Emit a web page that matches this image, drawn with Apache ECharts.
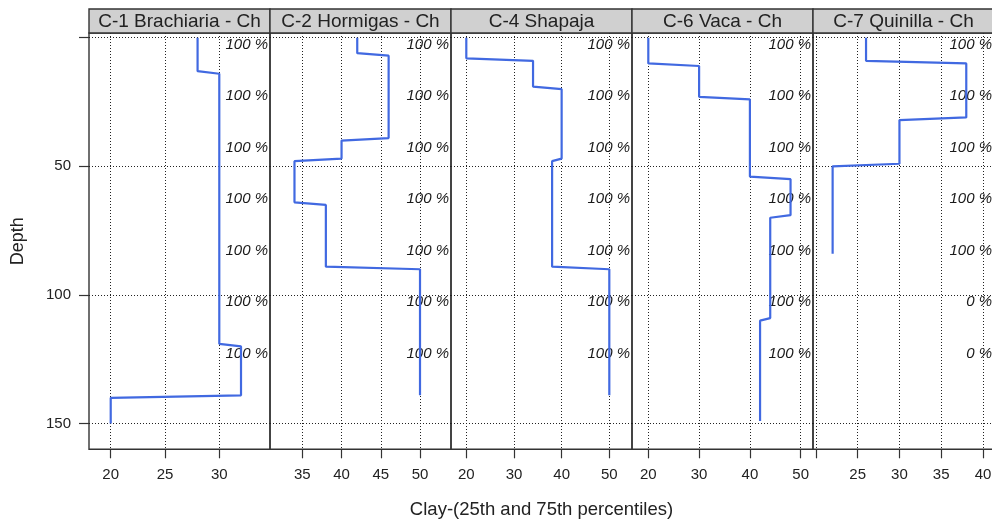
<!DOCTYPE html>
<html>
<head>
<meta charset="utf-8">
<script src="https://cdn.jsdelivr.net/npm/echarts@6/dist/echarts.min.js"></script>
<style>
html,body{margin:0;padding:0;background:#fff;}
#chart{width:992px;height:520px;}
</style>
</head>
<body>
<div id="chart"></div>
<script>
// ---- data ----
const categories = ['C-1 Brachiaria - Ch', 'C-2 Hormigas - Ch', 'C-4 Shapaja', 'C-6 Vaca - Ch', 'C-7 Quinilla - Ch'];

const c1Clay  = [28, 28, 30, 30, 32, 32, 20, 20];
const c1Depth = [0, 13, 14, 119, 120, 139, 140, 150];

const c2Clay  = [42, 42, 46, 46, 40, 40, 34, 34, 38, 38, 50, 50];
const c2Depth = [0, 6, 7, 39, 40, 47, 48, 64, 65, 89, 90, 139];

const c4Clay  = [20, 20, 34, 34, 40, 40, 38, 38, 50, 50];
const c4Depth = [0, 8, 9, 19, 20, 47, 48, 89, 90, 139];

const c6Clay  = [20, 20, 30, 30, 40, 40, 48, 48, 44, 44, 42, 42];
const c6Depth = [0, 10, 11, 23, 24, 54, 55, 69, 70, 109, 110, 149];

const c7Clay  = [26, 26, 38, 38, 30, 30, 22, 22];
const c7Depth = [0, 9, 10, 31, 32, 49, 50, 84];

const pctDepths = [0, 20, 40, 60, 80, 100, 120];
const c1Pct = [100, 100, 100, 100, 100, 100, 100];
const c2Pct = [100, 100, 100, 100, 100, 100, 100];
const c4Pct = [100, 100, 100, 100, 100, 100, 100];
const c6Pct = [100, 100, 100, 100, 100, 100, 100];
const c7Pct = [100, 100, 100, 100, 100, 0, 0];

const depthTicks = [0, 50, 100, 150];
const depthLabels = [50, 100, 150];

const c1XTicks = [20, 25, 30];
const c2XTicks = [35, 40, 45, 50];
const c4XTicks = [20, 30, 40, 50];
const c6XTicks = [20, 30, 40, 50];
const c7XTicks = [20, 25, 30, 35, 40];
const c7XLabels = [25, 30, 35, 40];

const xTitle = 'Clay-(25th and 75th percentiles)';
const yTitle = 'Depth';

// ---- layout ----
const claySets = [c1Clay, c2Clay, c4Clay, c6Clay, c7Clay];
const depthSets = [c1Depth, c2Depth, c4Depth, c6Depth, c7Depth];
const pctSets = [c1Pct, c2Pct, c4Pct, c6Pct, c7Pct];
const xTickSets = [c1XTicks, c2XTicks, c4XTicks, c6XTicks, c7XTicks];
const xLabelSets = [c1XTicks, c2XTicks, c4XTicks, c6XTicks, c7XLabels];
const xRanges = [[18.0, 34.67], [30.88, 53.95], [16.79, 54.76], [16.79, 52.42], [19.65, 41.32]];

const FONT = '"Liberation Sans", Arial, sans-serif';
const PANEL_LEFT = 89, PANEL_W = 181, TOP = 33, H = 416.3;
const STRIP_TOP = 9;
const BLUE = '#4169e1';
const GRIDC = '#222';

const grids = [], xAxes = [], yAxes = [], series = [], graphics = [];
for (let i = 0; i < 5; i++) {
  const left = PANEL_LEFT + i * PANEL_W;
  grids.push({left: left, top: TOP, width: PANEL_W, height: H, show: true,
    borderColor: '#333', borderWidth: 1.4, backgroundColor: 'transparent',
    containLabel: false, outerBoundsMode: 'none'});
  xAxes.push({
    type: 'value', gridIndex: i, min: xRanges[i][0], max: xRanges[i][1], position: 'bottom',
    axisLine: {show: false, onZero: false},
    splitLine: {show: false},
    axisTick: {show: true, inside: false, customValues: xTickSets[i], length: 9, lineStyle: {color: '#333', width: 1.2}},
    axisLabel: {show: true, customValues: xLabelSets[i], margin: 18, color: '#222', fontSize: 15, fontFamily: FONT},
    name: i === 2 ? xTitle : '', nameLocation: 'middle', nameGap: 51,
    nameTextStyle: {color: '#222', fontSize: 18.5, fontFamily: FONT}
  });
  yAxes.push({
    type: 'value', gridIndex: i, inverse: true, min: -1.83, max: 160, position: 'left',
    show: i === 0,
    axisLine: {show: false, onZero: false},
    splitLine: {show: false},
    axisTick: {show: true, inside: false, customValues: depthTicks, length: 10, lineStyle: {color: '#333', width: 1.2}},
    axisLabel: {show: true, customValues: depthLabels, margin: 18, color: '#222', fontSize: 15, fontFamily: FONT},
    name: i === 0 ? yTitle : '', nameLocation: 'middle', nameGap: 62, nameRotate: 90,
    nameTextStyle: {color: '#222', fontSize: 18, fontFamily: FONT}
  });
  // grid lines + percent labels
  const ml = [];
  xTickSets[i].forEach(v => ml.push({xAxis: v}));
  depthTicks.forEach(v => ml.push({yAxis: v}));
  series.push({
    type: 'scatter', xAxisIndex: i, yAxisIndex: i, z: 1, silent: true,
    symbolSize: 0, itemStyle: {opacity: 1},
    data: pctDepths.map((d, k) => ({value: [xRanges[i][1], d], pct: pctSets[i][k]})),
    label: {show: true, position: 'left', distance: 2, offset: [0, 7], opacity: 1,
      formatter: p => p.data.pct + ' %', color: '#1a1a1a', fontSize: 15, fontStyle: 'italic', fontFamily: FONT},
    markLine: {silent: true, symbol: ['none', 'none'], animation: false,
      label: {show: false},
      lineStyle: {type: [1, 2], color: GRIDC, width: 1, opacity: 1},
      emphasis: {disabled: true},
      data: ml}
  });
  series.push({
    type: 'line', xAxisIndex: i, yAxisIndex: i, z: 5, silent: true,
    showSymbol: false, symbol: 'none', animation: false,
    lineStyle: {color: BLUE, width: 2.2},
    data: claySets[i].map((c, k) => [c, depthSets[i][k]])
  });
  // strip header
  graphics.push({type: 'rect', shape: {x: left, y: STRIP_TOP, width: PANEL_W, height: TOP - STRIP_TOP},
    style: {fill: '#d0d0d0', stroke: '#333', lineWidth: 1.4}, z: 10});
  graphics.push({type: 'text', x: left + PANEL_W / 2, y: (STRIP_TOP + TOP) / 2 + 1,
    style: {text: categories[i], fill: '#222', font: '19px ' + FONT, align: 'center', verticalAlign: 'middle'}, z: 11});
}

const chart = echarts.init(document.getElementById('chart'), null, {renderer: 'canvas'});
chart.setOption({
  animation: false,
  backgroundColor: '#fff',
  grid: grids, xAxis: xAxes, yAxis: yAxes, series: series,
  graphic: graphics
});
</script>
</body>
</html>
